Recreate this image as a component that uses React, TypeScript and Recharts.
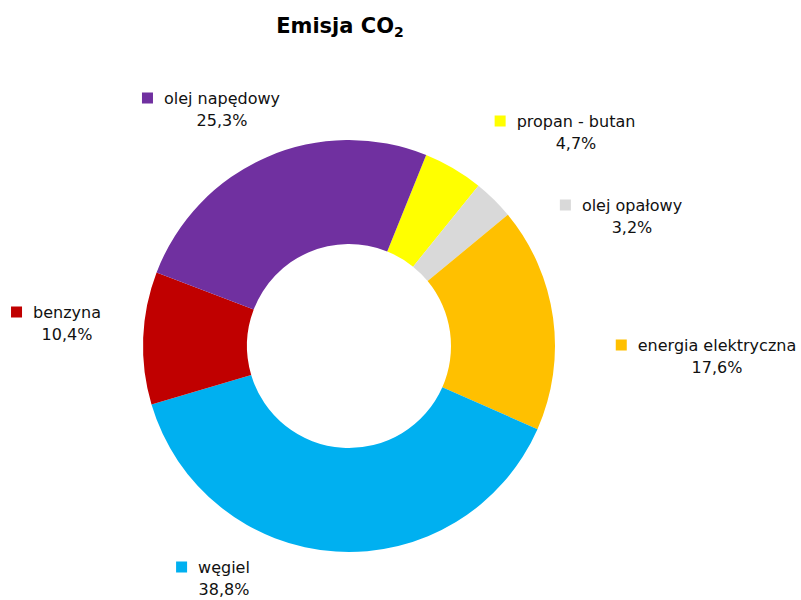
import React from "react";
import { PieChart, Pie, Cell } from "recharts";

const categories = ["propan - butan", "olej opałowy", "energia elektryczna", "węgiel", "benzyna", "olej napędowy"];
const shares = [4.7, 3.2, 17.6, 38.8, 10.4, 25.3];
const colors = ["#FFFF00", "#D9D9D9", "#FFC000", "#00B0F0", "#C00000", "#7030A0"];

const data = categories.map((name, i) => ({ name, value: shares[i] }));

// label anchors (centre of the name line) relative to the pie centre
const LABEL_ANCHORS: [number, number][] = [
  [227, -225],
  [283, -141],
  [368, -1],
  [-125, 221],
  [-282, -34],
  [-127, -248],
];

const FONT = "DejaVu Sans, Verdana, sans-serif";
const FS = 16;

let ctx: CanvasRenderingContext2D | null = null;
function measure(t: string) {
  if (!ctx) {
    const c = document.createElement("canvas");
    ctx = c.getContext("2d");
  }
  if (!ctx) return t.length * FS * 0.55;
  ctx.font = `${FS}px "DejaVu Sans"`;
  return ctx.measureText(t).width;
}

const renderLabel = (props: any) => {
  const { cx, cy, index, value, name } = props;
  const [dx, dy] = LABEL_ANCHORS[index];
  const x = cx + dx;
  const y = cy + dy;
  const w = measure(name);
  const pct = String(value.toFixed(1)).replace(".", ",") + "%";
  return (
    <g key={`lbl-${index}`}>
      <rect x={x - w / 2 - 22} y={y - 5.5} width={11} height={11} fill={colors[index]} />
      <text x={x} y={y} textAnchor="middle" dominantBaseline="central" fontFamily={FONT} fontSize={FS} fill="#111">
        {name}
      </text>
      <text x={x} y={y + 22} textAnchor="middle" dominantBaseline="central" fontFamily={FONT} fontSize={FS} fill="#111">
        {pct}
      </text>
    </g>
  );
};

export default function App() {
  return (
    <div style={{ position: "absolute", left: 0, top: 0, width: 801, height: 600, background: "#fff" }}>
      <PieChart width={801} height={600} margin={{ top: 0, right: 0, bottom: 0, left: 0 }}>
        <text x={340} y={26} textAnchor="middle" dominantBaseline="central" fontFamily={FONT} fontSize={21} fontWeight="bold" fill="#000">
          Emisja CO
          <tspan fontSize={14} dy={6}>2</tspan>
        </text>
        <Pie
          data={data}
          dataKey="value"
          nameKey="name"
          cx={349}
          cy={346}
          innerRadius={102}
          outerRadius={206}
          startAngle={68}
          endAngle={-292}
          stroke="none"
          labelLine={false}
          label={renderLabel}
          isAnimationActive={false}
        >
          {data.map((d, i) => (
            <Cell key={d.name} fill={colors[i]} />
          ))}
        </Pie>
      </PieChart>
    </div>
  );
}
